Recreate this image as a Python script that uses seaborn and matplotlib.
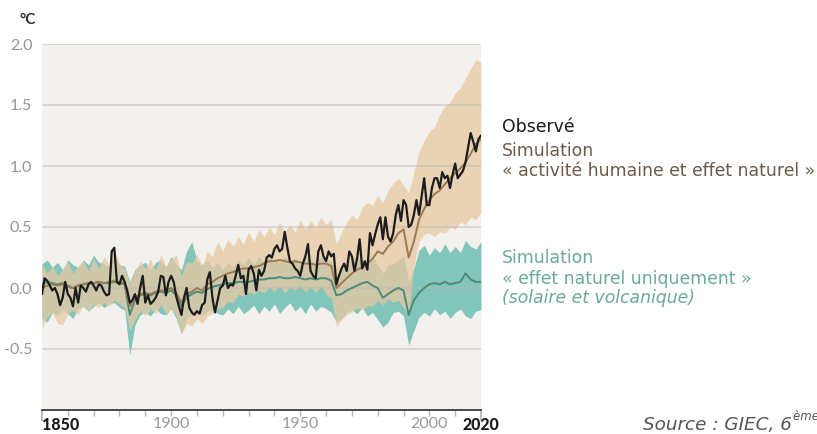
import numpy as np
import pandas as pd
import matplotlib
matplotlib.use("Agg")
import matplotlib.pyplot as plt
import seaborn as sns

# observed annual anomaly (°C, rel. 1850-1900), 1850..2020
obs_years = list(range(1850, 2021))
obs = [
    -0.05, 0.08, 0.06, 0.02, -0.02, 0.00, -0.05, -0.14, -0.08, 0.05,
    -0.05, -0.08, -0.15, 0.00, -0.12, 0.02, 0.00, -0.03, 0.03, 0.05,
    0.02, -0.02, 0.03, 0.02, -0.03, -0.06, -0.05, 0.30, 0.33, 0.05,
    0.03, 0.10, 0.05, -0.02, -0.12, -0.10, -0.05, -0.13, 0.00, 0.10,
    -0.12, -0.06, -0.13, -0.11, -0.08, -0.03, 0.10, 0.09, -0.06, 0.05,
    0.10, 0.05, -0.07, -0.15, -0.22, -0.08, 0.00, -0.16, -0.20, -0.22,
    -0.19, -0.21, -0.14, -0.12, 0.07, 0.13, -0.08, -0.20, -0.10, 0.00,
    0.02, 0.10, 0.00, 0.03, 0.02, 0.10, 0.19, 0.08, 0.10, -0.05,
    0.15, 0.18, 0.12, -0.02, 0.15, 0.10, 0.14, 0.25, 0.27, 0.25,
    0.32, 0.35, 0.30, 0.32, 0.46, 0.33, 0.22, 0.20, 0.16, 0.14,
    0.10, 0.20, 0.26, 0.36, 0.14, 0.10, 0.08, 0.30, 0.35, 0.26,
    0.22, 0.30, 0.26, 0.28, 0.03, 0.10, 0.16, 0.20, 0.14, 0.30,
    0.26, 0.14, 0.24, 0.40, 0.16, 0.22, 0.15, 0.45, 0.35, 0.44,
    0.52, 0.58, 0.40, 0.58, 0.42, 0.38, 0.45, 0.60, 0.68, 0.55,
    0.72, 0.68, 0.50, 0.52, 0.60, 0.72, 0.60, 0.75, 0.90, 0.68,
    0.68, 0.82, 0.90, 0.90, 0.82, 0.95, 0.90, 0.92, 0.82, 0.93,
    1.02, 0.90, 0.93, 0.96, 1.03, 1.15, 1.27, 1.20, 1.12, 1.22,
    1.25,
]

# simulations, every second year 1850..2020
sim_years = list(range(1850, 2021, 2))
hum_mean = [
    0.00, 0.02, 0.03, 0.02, 0.03, 0.01, 0.00, 0.02, 0.03, 0.04,
    0.04, 0.05, 0.04, 0.05, 0.06, 0.05, 0.04, -0.15, -0.08, -0.05,
    -0.04, -0.05, -0.03, -0.02, -0.02, 0.00, -0.04, -0.12, -0.05, -0.03,
    0.00, -0.02, 0.03, 0.05, 0.08, 0.10, 0.12, 0.13, 0.15, 0.16,
    0.16, 0.17, 0.18, 0.20, 0.22, 0.22, 0.23, 0.22, 0.21, 0.22,
    0.21, 0.20, 0.20, 0.19, 0.20, 0.20, 0.18, 0.00, 0.04, 0.08,
    0.12, 0.15, 0.17, 0.20, 0.24, 0.30, 0.28, 0.34, 0.38, 0.45,
    0.48, 0.25, 0.38, 0.56, 0.65, 0.72, 0.77, 0.80, 0.85, 0.90,
    0.94, 0.98, 1.03, 1.10, 1.18, 1.22,
]
hum_hi = [
    0.20, 0.12, 0.18, 0.10, 0.16, 0.22, 0.12, 0.18, 0.22, 0.14,
    0.24, 0.16, 0.26, 0.18, 0.32, 0.20, 0.16, 0.04, 0.14, 0.22,
    0.16, 0.24, 0.14, 0.28, 0.18, 0.24, 0.27, 0.10, 0.22, 0.20,
    0.28, 0.18, 0.30, 0.26, 0.38, 0.30, 0.40, 0.34, 0.42, 0.36,
    0.46, 0.38, 0.48, 0.42, 0.50, 0.44, 0.54, 0.46, 0.52, 0.46,
    0.56, 0.48, 0.55, 0.50, 0.58, 0.52, 0.56, 0.36, 0.46, 0.54,
    0.60, 0.56, 0.66, 0.70, 0.68, 0.76, 0.70, 0.80, 0.86, 0.90,
    0.84, 0.78, 0.95, 1.12, 1.21, 1.28, 1.32, 1.42, 1.49, 1.52,
    1.60, 1.64, 1.72, 1.80, 1.87, 1.85,
]
hum_lo = [
    -0.33, -0.24, -0.20, -0.29, -0.30, -0.21, -0.18, -0.22, -0.14, -0.19,
    -0.13, -0.16, -0.12, -0.15, -0.10, -0.13, -0.16, -0.35, -0.26, -0.19,
    -0.23, -0.17, -0.21, -0.14, -0.21, -0.17, -0.23, -0.38, -0.29, -0.31,
    -0.25, -0.29, -0.23, -0.21, -0.17, -0.16, -0.11, -0.12, -0.05, -0.07,
    -0.03, -0.05, -0.02, -0.04, 0.01, -0.03, 0.02, -0.04, 0.01, -0.02,
    0.02, -0.03, 0.01, -0.04, 0.02, -0.05, -0.08, -0.32, -0.26, -0.22,
    -0.20, -0.16, -0.18, -0.14, -0.15, -0.10, -0.14, -0.09, -0.12, -0.10,
    -0.16, -0.22, 0.18, 0.38, 0.44, 0.45, 0.42, 0.46, 0.45, 0.50,
    0.48, 0.54, 0.52, 0.58, 0.56, 0.62,
]
nat_mean = [
    0.03, 0.05, 0.04, 0.03, 0.04, 0.02, 0.00, 0.02, 0.03, 0.04,
    0.04, 0.05, 0.04, 0.04, 0.05, 0.04, 0.03, -0.22, -0.10, -0.06,
    -0.05, -0.06, -0.04, -0.03, -0.04, -0.02, -0.06, -0.15, -0.08, -0.05,
    -0.03, -0.04, -0.01, 0.01, 0.02, 0.03, 0.04, 0.04, 0.05, 0.05,
    0.05, 0.06, 0.07, 0.07, 0.08, 0.08, 0.09, 0.08, 0.08, 0.09,
    0.08, 0.07, 0.08, 0.07, 0.08, 0.08, 0.06, -0.06, -0.05, -0.02,
    0.00, 0.02, 0.04, 0.05, 0.02, 0.00, -0.08, -0.05, -0.02, 0.00,
    -0.02, -0.22, -0.10, -0.04, 0.00, 0.03, 0.04, 0.03, 0.05, 0.03,
    0.04, 0.05, 0.12, 0.07, 0.05, 0.05,
]
nat_hi = [
    0.20, 0.23, 0.17, 0.21, 0.15, 0.23, 0.19, 0.17, 0.23, 0.19,
    0.27, 0.21, 0.20, 0.17, 0.26, 0.19, 0.18, 0.05, 0.15, 0.19,
    0.21, 0.15, 0.21, 0.23, 0.17, 0.26, 0.19, 0.15, 0.30, 0.38,
    0.22, 0.19, 0.23, 0.17, 0.21, 0.15, 0.21, 0.17, 0.23, 0.19,
    0.25, 0.19, 0.26, 0.21, 0.27, 0.23, 0.21, 0.26, 0.21, 0.25,
    0.21, 0.26, 0.23, 0.21, 0.26, 0.23, 0.22, 0.10, 0.15, 0.21,
    0.23, 0.26, 0.21, 0.20, 0.26, 0.19, 0.12, 0.19, 0.20, 0.23,
    0.26, 0.05, 0.16, 0.31, 0.35, 0.27, 0.33, 0.29, 0.36, 0.29,
    0.34, 0.29, 0.39, 0.34, 0.32, 0.38,
]
nat_lo = [
    -0.25, -0.28, -0.20, -0.23, -0.17, -0.21, -0.25, -0.17, -0.15, -0.19,
    -0.15, -0.12, -0.16, -0.13, -0.12, -0.16, -0.18, -0.55, -0.30, -0.22,
    -0.20, -0.23, -0.17, -0.21, -0.22, -0.17, -0.25, -0.38, -0.25, -0.22,
    -0.20, -0.23, -0.19, -0.18, -0.21, -0.22, -0.17, -0.21, -0.15, -0.21,
    -0.18, -0.14, -0.21, -0.15, -0.19, -0.13, -0.21, -0.16, -0.12, -0.19,
    -0.15, -0.21, -0.13, -0.19, -0.15, -0.17, -0.20, -0.28, -0.25, -0.20,
    -0.18, -0.21, -0.16, -0.23, -0.20, -0.26, -0.32, -0.28, -0.20, -0.19,
    -0.23, -0.47, -0.35, -0.24, -0.20, -0.23, -0.17, -0.22, -0.19, -0.25,
    -0.20, -0.17, -0.23, -0.25, -0.19, -0.18,
]

y_ticks = [-0.5, 0.0, 0.5, 1.0, 1.5, 2.0]
x_labels = {1850: "1850", 1900: "1900", 1950: "1950", 2000: "2000", 2020: "2020"}

sns.set_theme(style="white")
plt.rcParams["font.family"] = ["DejaVu Sans"]

bg = "#f2f1ed"
teal_fill = "#82c5ba"
brown_fill = "#e8c8a2"
brown_line = "#9c7b52"
teal_line = "#4d8a7a"

fig = plt.figure(figsize=(8.17, 4.34), dpi=100)
ax = fig.add_axes([42 / 817, 1 - 410 / 434, (481 - 42) / 817, (410 - 44) / 434])
ax.set_facecolor(bg)

df_obs = pd.DataFrame({"year": obs_years, "obs": obs})
df_sim = pd.DataFrame({"year": sim_years, "hum": hum_mean, "hum_hi": hum_hi, "hum_lo": hum_lo,
                       "nat": nat_mean, "nat_hi": nat_hi, "nat_lo": nat_lo})

for yt in y_ticks:
    ax.axhline(yt, color="#bdbab3", lw=1.1, alpha=0.6, zorder=2.5)

ax.fill_between(df_sim["year"], df_sim["nat_lo"], df_sim["nat_hi"], color=teal_fill, lw=0, zorder=1)
ax.fill_between(df_sim["year"], df_sim["hum_lo"], df_sim["hum_hi"], color=brown_fill, alpha=0.75, lw=0, zorder=2)

sns.lineplot(data=df_sim, x="year", y="nat", color=teal_line, lw=1.4, ax=ax, zorder=3)
sns.lineplot(data=df_sim, x="year", y="hum", color=brown_line, lw=1.4, ax=ax, zorder=4)
sns.lineplot(data=df_obs, x="year", y="obs", color="#1c1c1c", lw=1.6, ax=ax, zorder=5)

ax.set_xlim(1850, 2020)
ax.set_ylim(-1.0, 2.0)
ax.set_xlabel("")
ax.set_ylabel("")

for s in ["top", "right", "left"]:
    ax.spines[s].set_visible(False)
ax.spines["bottom"].set_color("#3a3a3a")
ax.spines["bottom"].set_linewidth(1.3)

ax.set_yticks(y_ticks)
ax.set_yticklabels([f"{v:.1f}" for v in y_ticks], family="Lato", fontsize=11.5, color="#949494")
ax.tick_params(axis="y", left=False, length=0, pad=7)

ax.set_xticks(list(range(1850, 2021, 10)))
ax.set_xticklabels([x_labels.get(y, "") for y in range(1850, 2021, 10)], family="Lato",
                   fontsize=11.5, color="#9a9a9a")
ax.tick_params(axis="x", bottom=True, direction="out", length=4, width=1, color="#b8b8b8", pad=1)
xt = ax.xaxis.get_major_ticks()
for i in (0, -1):
    xt[i].tick1line.set_markersize(8)
    xt[i].tick1line.set_markeredgewidth(1.3)
    xt[i].tick1line.set_color("#3a3a3a")
    xt[i].label1.set_color("#1a1a1a")
    xt[i].label1.set_fontweight("black")
xt[0].label1.set_horizontalalignment("left")

fig.text(28 / 817, 1 - 20 / 434, "°C", family="Lato", fontweight="bold", fontsize=11,
         color="#333333", ha="center", va="center")

lx = 502 / 817
fs = 12.4
fig.text(lx, 1 - 127 / 434, "Observé", fontsize=fs, color="#1a1a1a", va="center")
fig.text(lx, 1 - 151 / 434, "Simulation", fontsize=fs, color="#6e5a48", va="center")
fig.text(lx, 1 - 171 / 434, "« activité humaine et effet naturel »", fontsize=fs, color="#6e5a48", va="center")
fig.text(lx, 1 - 258 / 434, "Simulation", fontsize=fs, color="#6aa99b", va="center")
fig.text(lx, 1 - 279 / 434, "« effet naturel uniquement »", fontsize=fs, color="#6aa99b", va="center")
fig.text(lx, 1 - 298 / 434, "(solaire et volcanique)", fontsize=fs, color="#6aa99b", va="center", style="italic")

src = fig.text(643 / 817, 1 - 430 / 434, "Source : GIEC, 6", fontsize=13.2, color="#555555",
               style="italic", va="baseline")
fig.canvas.draw()
bb = src.get_window_extent(renderer=fig.canvas.get_renderer())
fig.text(bb.x1 / 817 + 1 / 817, 1 - 420 / 434, "ème rapport", fontsize=8.5, color="#555555",
         style="italic", va="baseline")

fig.savefig("out.png", dpi=100, facecolor="white")
